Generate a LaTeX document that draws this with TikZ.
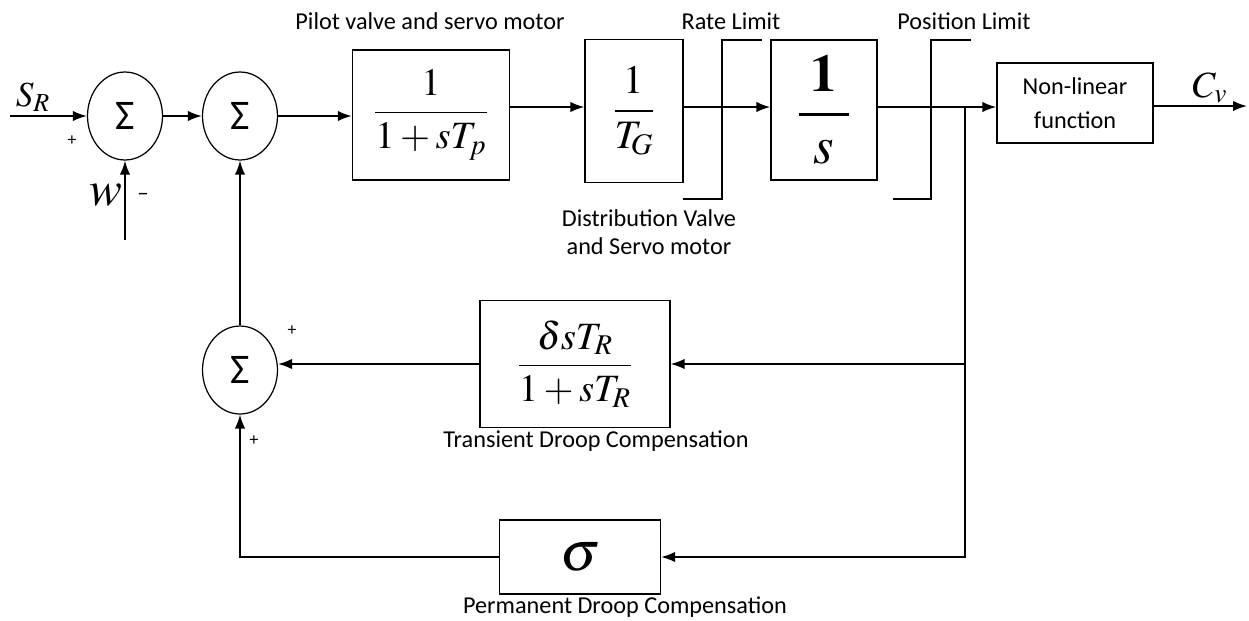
\documentclass[tikz,border=0pt]{standalone}
\usepackage{mathptmx}
\usepackage[no-math]{fontspec}
\setmainfont{Carlito}
\usetikzlibrary{arrows.meta,shapes.geometric}
\tikzset{
  blk/.style={draw,line width=0.8pt,inner sep=0pt,align=center},
  sumnode/.style={ellipse,draw,line width=0.7pt,inner sep=0pt,minimum width=1.5cm,minimum height=1.76cm,font=\fontsize{24}{26}\selectfont},
  lbl/.style={font=\fontsize{13.8}{16}\selectfont,align=center,inner sep=1pt},
  sgn/.style={font=\fontsize{10}{11}\selectfont,inner sep=0pt},
  lim/.style={line width=0.7pt},
  sig/.style={line width=1.1pt},
  fb/.style={line width=0.9pt}
}

\begin{document}
\begin{tikzpicture}[x=0.02cm,y=-0.02cm,>={Latex[length=2.8mm,width=2.1mm]}]
  \useasboundingbox (0,0) rectangle (1249,620);
  % summing points
  \node[sumnode] (sumA) at (125,116) {Σ};
  \node[sumnode] (sumB) at (240,116) {Σ};
  \node[sumnode] (sumC) at (240,370) {Σ};
  % forward blocks
  \node[blk,minimum width=3.14cm,minimum height=2.6cm] (Tp) at (431,115)
    {\fontsize{22}{26}\selectfont$\displaystyle\frac{1}{1+sT_p}$};
  \node[blk,minimum width=1.96cm,minimum height=2.86cm] (TG) at (634,111)
    {\fontsize{23}{26}\selectfont$\displaystyle\frac{\,1\,}{T_{\!G}}$};
  \node[blk,minimum width=2.12cm,minimum height=2.8cm] (Si) at (824,110)
    {\fontsize{30}{34}\selectfont$\displaystyle\frac{\;\mathbf{1}\;}{s}$};
  \node[blk,minimum width=3.12cm,minimum height=1.6cm,font=\fontsize{13.8}{19}\selectfont] (NL) at (1075,103)
    {Non-linear\\function};
  % feedback blocks
  \node[blk,minimum width=3.8cm,minimum height=2.54cm] (TR) at (575,364)
    {\fontsize{22}{26}\selectfont$\displaystyle\frac{\delta sT_R}{1+sT_R}$};
  \node[blk,minimum width=3.22cm,minimum height=1.48cm] (Sg) at (580,557)
    {\fontsize{32}{34}\selectfont$\sigma$};
  % free ends
  \coordinate (inSR) at (10,116);
  \coordinate (inW) at (125,240);
  \coordinate (brA) at (965,107);
  \coordinate (outC) at (1247,106);
  % forward path
  \draw[sig,->] (inSR) -- (sumA.west);
  \draw[sig,->] (inW) -- (sumA.south);
  \draw[sig,->] (sumA.east) -- (sumB.west);
  \draw[sig,->] (sumB.east) -- (Tp.west |- sumB.east);
  \draw[sig,->] (Tp.east |- 0,107) -- (TG.west |- 0,107);
  \draw[sig,->] (TG.east |- 0,107) -- (Si.west |- 0,107);
  \draw[sig,->] (Si.east |- brA) -- (NL.west |- brA);
  \draw[sig,->] (NL.east |- outC) -- (outC);
  % limits
  \draw[lim] (683,199) -- (722,199) -- (722,40) -- (762,40);
  \draw[lim] (893,199) -- (931,199) -- (931,40) -- (971,40);
  % feedback paths
  \draw[fb,->] (brA) |- (TR.east);
  \draw[fb,->] (brA) |- (Sg.east);
  \draw[fb,->] (TR.west) -- (sumC.east |- TR.west);
  \draw[fb,->] (Sg.west) -| (sumC.south);
  \draw[sig,->] (sumC.north) -- (sumB.south);
  % labels
  \node[font=\fontsize{20}{22}\selectfont] (lSR) at (33,97) {$S_R$};
  \node[font=\fontsize{28}{30}\selectfont] (lW) at (106,195) {$w$};
  \node[font=\fontsize{21}{23}\selectfont] (lC) at (1210,88) {$C_v$};
  \node[sgn] (pA) at (72,141) {+};
  \node[sgn] (mA) at (143,197) {\fontsize{13}{13}\selectfont –};
  \node[sgn] (pC) at (292,331) {+};
  \node[sgn] (pD) at (254,441) {+};
  \node[lbl] (lPilot) at (430,21) {Pilot valve and servo motor};
  \node[lbl] (lRate) at (731,21) {Rate Limit};
  \node[lbl] (lPos) at (964,21) {Position Limit};
  \node[lbl] (lDist) at (649,232) {Distribution Valve\\and Servo motor};
  \node[lbl] (lTrans) at (596,441) {Transient Droop Compensation};
  \node[lbl] (lPerm) at (625,607) {Permanent Droop Compensation};
\end{tikzpicture}
\end{document}
